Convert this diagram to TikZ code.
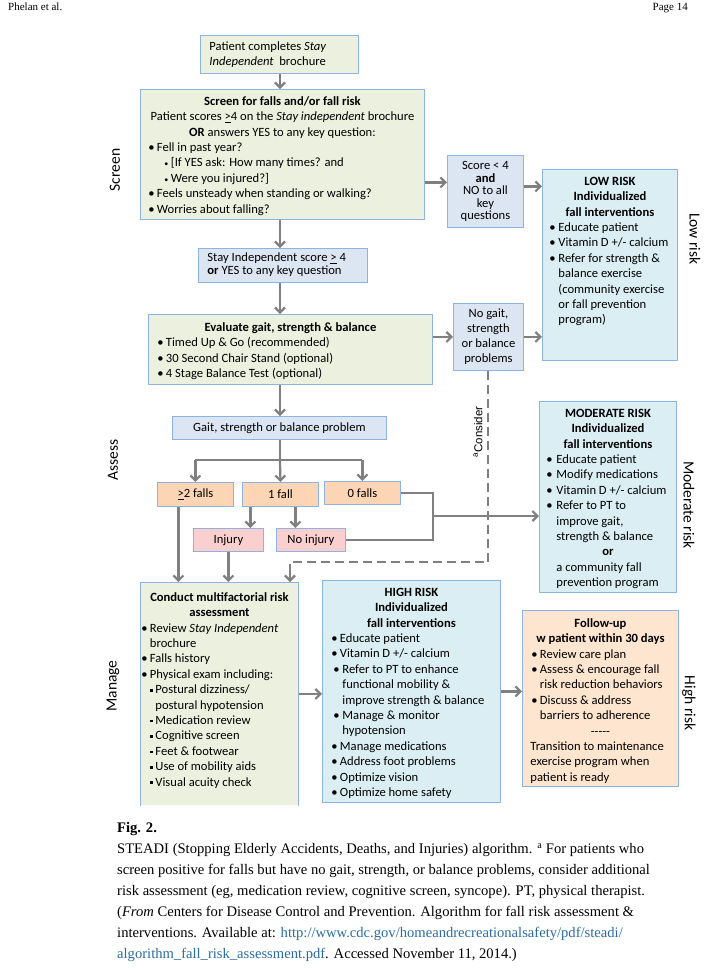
\documentclass[tikz,border=0pt]{standalone}
\usepackage{fontspec}
\setmainfont{Carlito}
\newfontfamily\tnr{Liberation Serif}
\newfontfamily\arl{Liberation Sans}
\usetikzlibrary{arrows.meta}
\definecolor{bord}{HTML}{8DB3E2}
\definecolor{gfill}{HTML}{EBF1DE}
\definecolor{bfill}{HTML}{DCE6F2}
\definecolor{cfill}{HTML}{DBEEF4}
\definecolor{pfill}{HTML}{FCD5B5}
\definecolor{ffill}{HTML}{FDE5CF}
\definecolor{rfill}{HTML}{F9CFCF}
\definecolor{arrc}{HTML}{808080}
\definecolor{linkc}{HTML}{2B6CA3}
\newlength\bw
\setlength\bw{7pt}
\newcommand{\bitem}[4]{\par\hangindent=\dimexpr#1+#2\relax\hangafter=1\noindent\hspace*{#1}\makebox[#2][l]{#3}#4\par}
\newcommand{\bul}{\kern-2pt\textbullet}
\newcommand{\bl}[1]{\bitem{0pt}{\bw}{\bul}{#1}}
\newcommand{\sqb}{\raisebox{0.35ex}{\rule{2.6pt}{2.6pt}}}
\newcommand{\smb}{\kern-1pt{\fontsize{8}{8}\selectfont\textbullet}}
\newcommand{\uge}{\underline{>}}
\newcommand{\bx}[3]{\parbox[c][#2][t]{#1}{\raggedright\setlength\parskip{0pt}#3}}
\tikzset{
  box/.style={draw=bord, line width=0.9pt, anchor=north west, font=\fontsize{12.6}{15.4}\selectfont},
  cbox/.style={draw=bord, line width=0.9pt, anchor=north west, inner sep=0pt, align=center, font=\fontsize{12.6}{15}\selectfont},
  arr/.style={draw=arrc, line width=2.2pt, -{Straight Barb[length=5pt,width=10pt]}},
  ln/.style={draw=arrc, line width=2.2pt},
  dsh/.style={draw=arrc, line width=2pt, dash pattern=on 9pt off 5pt},
  side/.style={font=\fontsize{15.5}{18}\selectfont, inner sep=0pt}
}
\begin{document}
\begin{tikzpicture}[x=1pt,y=-1pt]
\useasboundingbox (0,0) rectangle (720,970);
\fill[white] (0,0) rectangle (720,970);

% header
\node[anchor=base west, inner sep=0, font=\tnr\fontsize{11}{13}\selectfont] (hl) at (8,10) {Phelan et al.};
\node[anchor=base east, inner sep=0, font=\tnr\fontsize{11}{13}\selectfont] (hr) at (688,10) {Page 14};

% boxes
\node[box, fill=gfill, inner xsep=9pt, inner ysep=5pt] (p) at (200,35)
  {\bx{140pt}{28pt}{\fontsize{12.6}{15}\selectfont\strut Patient completes \textit{Stay}\newline \textit{Independent}\ \ brochure}};

\node[box, fill=gfill, inner xsep=10pt, inner ysep=5pt] (s) at (140,89)
  {\bx{264pt}{120pt}{\setlength\bw{6.5pt}{\centering\strut\textbf{Screen for falls and/or fall risk}\\
   Patient scores \uge4 on the \textit{Stay independent} brochure\\
   \textbf{OR} answers YES to any key question:\par}
   \bl{Fell in past year?}
   \bitem{15pt}{5.5pt}{\smb}{[If YES ask: How many times? and}
   \bitem{15pt}{5.5pt}{\smb}{Were you injured?]}
   \bl{Feels unsteady when standing or walking?}
   \bl{Worries about falling?}}};

\node[cbox, fill=bfill, minimum width=76pt, minimum height=72pt, font=\fontsize{12.6}{12.5}\selectfont] (sc) at (447,155)
  {Score < 4\\\textbf{and}\\NO to all\\key\\questions};

\node[box, fill=cfill, inner xsep=9pt, inner ysep=5pt] (low) at (542,169)
  {\bx{117pt}{181pt}{{\centering\strut\textbf{LOW RISK}\\\textbf{Individualized}\\\textbf{fall interventions}\par}
   \bl{Educate patient}
   \bl{Vitamin D +/- calcium}
   \bl{Refer for strength \&\newline balance exercise\newline (community exercise\newline or fall prevention\newline program)}}};

\node[box, fill=bfill, inner xsep=9pt, inner ysep=4pt] (stay) at (198,248)
  {\bx{151pt}{26pt}{\fontsize{12.6}{13}\selectfont\strut Stay Independent score \uge\ 4\newline \textbf{or} YES to any key question}};

\node[box, fill=gfill, inner xsep=11pt, inner ysep=6pt] (eval) at (148,314)
  {\bx{262pt}{58pt}{\setlength\bw{6.5pt}{\centering\strut\textbf{Evaluate gait, strength \& balance}\par}
   \bl{Timed Up \& Go (recommended)}
   \bl{30 Second Chair Stand (optional)}
   \bl{4 Stage Balance Test (optional)}}};

\node[cbox, fill=bfill, minimum width=70pt, minimum height=67pt] (ng) at (453,303)
  {No gait,\\strength\\or balance\\problems};

\node[cbox, fill=bfill, minimum width=214pt, minimum height=23pt] (gait) at (172,416)
  {Gait, strength or balance problem};

\node[cbox, fill=pfill, minimum width=76pt, minimum height=24pt] (f2) at (157,482) {\uge2 falls};
\node[cbox, fill=pfill, minimum width=76pt, minimum height=24pt] (f1) at (242,482) {1 fall};
\node[cbox, fill=pfill, minimum width=76pt, minimum height=23pt] (f0) at (324,481) {0 falls};
\node[cbox, fill=rfill, minimum width=70pt, minimum height=23pt] (inj) at (193,528) {Injury};
\node[cbox, fill=rfill, minimum width=69pt, minimum height=23pt] (ninj) at (276,528) {No injury};

\node[box, fill=cfill, inner xsep=9pt, inner ysep=5pt] (mod) at (539,401)
  {\bx{119pt}{181pt}{\setlength\bw{8pt}{\centering\strut\textbf{MODERATE RISK}\\\textbf{Individualized}\\\textbf{fall interventions}\par}
   \bl{Educate patient}
   \bl{Modify medications}
   \bl{Vitamin D +/- calcium}
   \bl{Refer to PT to\newline improve gait,\newline strength \& balance}
   {\centering\textbf{or}\par}
   {\leftskip=8pt a community fall\\ prevention program\par}}};

\node[box, fill=gfill, draw=none, inner xsep=3pt, inner ysep=8pt] (cond) at (140,582)
  {\bx{152pt}{207pt}{\setlength\bw{6.5pt}{\centering\strut\textbf{Conduct multifactorial risk}\\\textbf{assessment}\par}
   \bl{Review \textit{Stay Independent}\newline brochure}
   \bl{Falls history}
   \bl{Physical exam including:}
   \bitem{7pt}{5pt}{\sqb}{Postural dizziness/\newline postural hypotension}
   \bitem{7pt}{5pt}{\sqb}{Medication review}
   \bitem{7pt}{5pt}{\sqb}{Cognitive screen}
   \bitem{7pt}{5pt}{\sqb}{Feet \& footwear}
   \bitem{7pt}{5pt}{\sqb}{Use of mobility aids}
   \bitem{7pt}{5pt}{\sqb}{Visual acuity check}}};
\draw[bord, line width=0.9pt] (cond.south west) -- (cond.north west) -- (cond.north east) -- (cond.south east);

\node[box, fill=cfill, inner xsep=11pt, inner ysep=5pt] (high) at (322,580)
  {\bx{156pt}{212pt}{\setlength\bw{6.5pt}{\centering\strut\textbf{HIGH RISK}\\\textbf{Individualized}\\\textbf{fall interventions}\par}
   \bl{Educate patient}
   \bl{Vitamin D +/- calcium}
   \bitem{2pt}{7pt}{\bul}{Refer to PT to enhance\newline functional mobility \&\newline improve strength \& balance}
   \bitem{2pt}{7pt}{\bul}{Manage \& monitor\newline hypotension}
   \bl{Manage medications}
   \bl{Address foot problems}
   \bl{Optimize vision}
   \bl{Optimize home safety}}};

\node[box, fill=ffill, inner xsep=8pt, inner ysep=6pt] (fol) at (522,610)
  {\bx{140pt}{164pt}{{\centering\strut\textbf{Follow-up}\\\textbf{w patient within 30 days}\par}
   \bitem{3pt}{6.5pt}{\bul}{Review care plan}
   \bitem{3pt}{6.5pt}{\bul}{Assess \& encourage fall\newline risk reduction behaviors}
   \bitem{3pt}{6.5pt}{\bul}{Discuss \& address\newline barriers to adherence}
   {\centering -{}-{}-{}-{}-\par}
   Transition to maintenance\\ exercise program when\\ patient is ready}};

% side labels
\node[side, rotate=90] (lscr) at (115,170) {Screen};
\node[side, rotate=90] (lass) at (113,460) {Assess};
\node[side, rotate=90] (lman) at (113,686) {Manage};
\node[side, rotate=-90] (rlow) at (695,239) {Low risk};
\node[side, rotate=-90] (rmod) at (689,505) {Moderate risk};
\node[side, rotate=-90] (rhigh) at (689,703) {High risk};

\node[rotate=90, inner sep=0pt, font=\arl\fontsize{11.5}{13}\selectfont] (cons) at (478,432) {\textsuperscript{a}Consider};

% connectors
\coordinate (cx) at (280,0);
\draw[arr] (cx |- p.south) -- (cx |- s.north);
\coordinate (sca) at ([yshift=9pt]sc.west);
\draw[arr] (s.east |- sca) -- (sca);
\coordinate (scb) at ([yshift=5pt]sc.east);
\draw[arr] (scb) -- (scb -| low.west);
\draw[arr] (cx |- s.south) -- (cx |- stay.north);
\draw[arr] (cx |- stay.south) -- (cx |- eval.north);
\draw[arr] (eval.east |- ng.west) -- (ng.west);
\draw[arr] (ng.east) -- (ng.east -| low.west);
\draw[arr] (cx |- eval.south) -- (cx |- gait.north);
\coordinate (br) at (280,460);
\draw[ln] (cx |- gait.south) -- (br);
\draw[ln] (f2.north |- br) -- (f0.north |- br);
\draw[arr] (f2.north |- br) -- (f2.north);
\draw[arr] (br) -- (f1.north);
\draw[arr] (f0.north |- br) -- (f0.north);
\coordinate (fa) at ([xshift=-30pt]f1.south);
\coordinate (fb) at ([xshift=15pt]f1.south);
\draw[arr] (fa) -- (fa |- inj.north);
\draw[arr] (fb) -- (fb |- ninj.north);
\coordinate (fc) at ([xshift=-17pt]f2.south);
\draw[arr] (fc) -- (fc |- cond.north);
\draw[arr] (inj.south) -- (inj.south |- cond.north);
\coordinate (j0) at (433,0);
\draw[ln] (f0.east) -- (j0 |- f0.east) -- (j0 |- ninj.east) -- (ninj.east);
\coordinate (jm) at (433,516);
\draw[arr] (jm) -- (jm -| mod.west);
\coordinate (dj) at (290,562);
\draw[dsh] (ng.south) -- (ng.south |- dj) -- (dj) -- ([yshift=-6pt]dj);
\draw[arr] ([yshift=-6pt]dj) -- (dj |- cond.north);
\draw[arr] (cond.east) -- (cond.east -| high.west);
\draw[arr] (high.east) -- (high.east -| fol.west);

% caption
\node[anchor=north west, inner sep=0pt, align=left, font=\tnr\fontsize{14.6}{21}\selectfont] (cap) at (117,822)
 {\textbf{Fig. 2.}\\
 STEADI (Stopping Elderly Accidents, Deaths, and Injuries) algorithm. \textsuperscript{a} For patients who\\
 screen positive for falls but have no gait, strength, or balance problems, consider additional\\
 risk assessment (eg, medication review, cognitive screen, syncope). PT, physical therapist.\\
 (\textit{From} Centers for Disease Control and Prevention. Algorithm for fall risk assessment \&\\
 interventions. Available at: \textcolor{linkc}{http://www.cdc.gov/homeandrecreationalsafety/pdf/steadi/}\\
 \textcolor{linkc}{algorithm\_fall\_risk\_assessment.pdf}. Accessed November 11, 2014.)};
\end{tikzpicture}
\end{document}
